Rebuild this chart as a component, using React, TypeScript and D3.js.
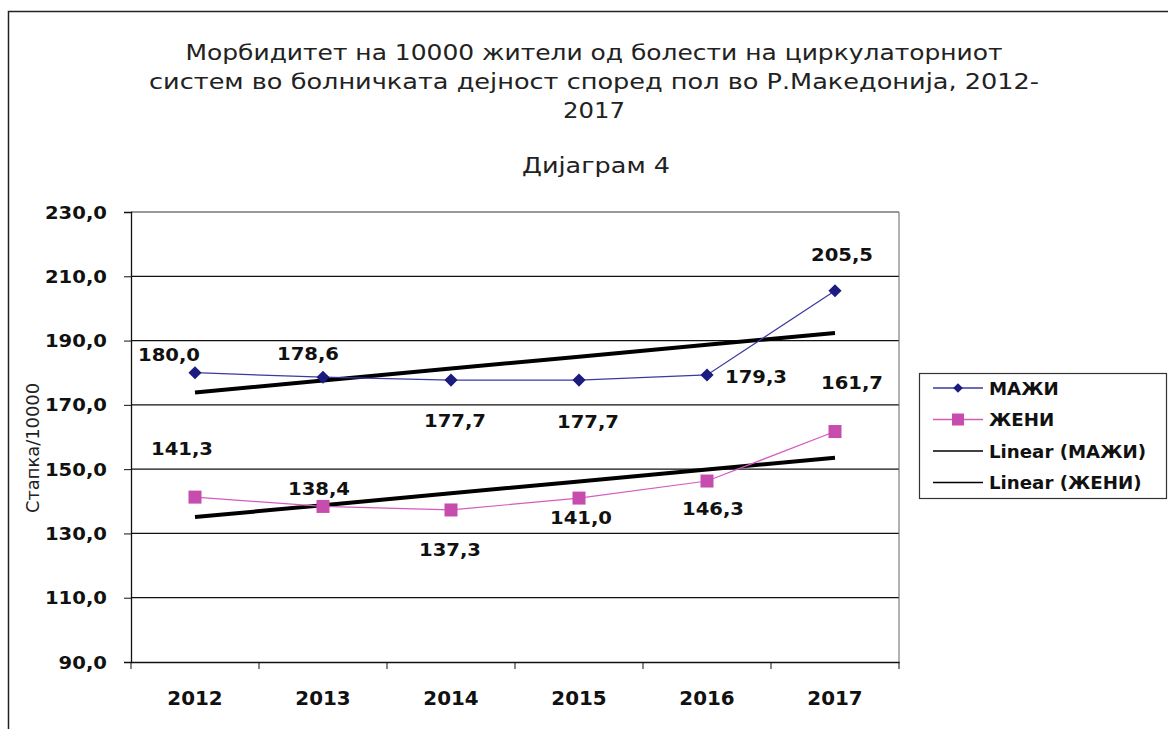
import React, { useEffect, useRef } from 'react';
import * as d3 from 'd3';

const years = ['2012', '2013', '2014', '2015', '2016', '2017'];
const maleValues = [180.0, 178.6, 177.7, 177.7, 179.3, 205.5];
const femaleValues = [141.3, 138.4, 137.3, 141.0, 146.3, 161.7];
const yTicks = [90, 110, 130, 150, 170, 190, 210, 230];
const titleLines = [
  'Морбидитет на 10000 жители од болести на циркулаторниот',
  'систем во болничката дејност според пол во Р.Македонија, 2012-',
  '2017',
];
const subtitle = 'Дијаграм 4';
const yTitle = 'Стапка/10000';
const legendItems = ['МАЖИ', 'ЖЕНИ', 'Linear (МАЖИ)', 'Linear (ЖЕНИ)'];

// hand-placed label offsets (px from the point to the label baseline centre)
const maleLabelOffset = [[-26, -12], [-15, -17], [4, 47], [9, 48], [49, 8], [7, -30]];
const femaleLabelOffset = [[-13, -42], [-4, -11], [-1, 46], [2, 26], [6, 34], [17, -43]];

const fmt = (v: number) => v.toFixed(1).replace('.', ',');

const trend = (vals: number[]) => {
  const xs = vals.map((_, i) => i + 1);
  const mx = d3.mean(xs)!;
  const my = d3.mean(vals)!;
  const slope = d3.sum(xs, (x, i) => (x - mx) * (vals[i] - my)) / d3.sum(xs, x => (x - mx) ** 2);
  return vals.map((_, i) => my + slope * (xs[i] - mx));
};

const App = () => {
  const ref = useRef<SVGSVGElement>(null);

  useEffect(() => {
    const svg = d3.select(ref.current);
    svg.selectAll('*').remove();
    const font = 'DejaVu Sans, Verdana, sans-serif';

    // text a bit wider than DejaVu, like the source
    const wide = (parent: any, x: number, y: number, txt: string, size: number, sx: number,
      anchor = 'middle', bold = true) => {
      parent.append('g').attr('transform', `translate(${x},${y}) scale(${sx},1)`)
        .append('text').attr('text-anchor', anchor).attr('font-family', font)
        .attr('font-weight', bold ? 'bold' : 'normal').attr('font-size', size)
        .attr('fill', '#111').text(txt);
    };

    // outer frame
    svg.append('rect').attr('x', 8.5).attr('y', 11.5).attr('width', 1180).attr('height', 740)
      .attr('fill', 'white').attr('stroke', '#222').attr('stroke-width', 1.5);

    const left = 131, right = 899, top = 212, bottom = 662;
    const x = d3.scaleBand().domain(years).range([left, right]);
    const y = d3.scaleLinear().domain([90, 230]).range([bottom, top]);
    const cx = (i: number) => x(years[i])! + x.bandwidth() / 2;

    // gridlines
    svg.append('g').selectAll('line').data(yTicks.slice(1)).enter().append('line')
      .attr('x1', left).attr('x2', right).attr('y1', d => y(d)).attr('y2', d => y(d))
      .attr('stroke', d => (d === 230 ? '#777' : '#111')).attr('stroke-width', 1.3);
    svg.append('line').attr('x1', right).attr('x2', right).attr('y1', top).attr('y2', bottom)
      .attr('stroke', '#666').attr('stroke-width', 1);

    // axes
    const yAxis = svg.append('g').attr('transform', `translate(${left},0)`)
      .call(d3.axisLeft(y).tickValues(yTicks).tickSize(7).tickFormat(() => ''));
    yAxis.select('.domain').attr('stroke', '#111').attr('stroke-width', 1.3);
    yAxis.selectAll('line').attr('stroke', '#111');
    yTicks.forEach(t => wide(svg, 107, y(t) + 6.5, fmt(t), 18, 1.09, 'end'));

    const xAxis = svg.append('g').attr('transform', `translate(0,${bottom})`)
      .call(d3.axisBottom(x).tickSize(0).tickFormat(() => ''));
    xAxis.select('.domain').attr('stroke', '#111').attr('stroke-width', 1.3);
    xAxis.append('g').selectAll('line').data(d3.range(years.length + 1)).enter().append('line')
      .attr('x1', i => left + i * x.bandwidth()).attr('x2', i => left + i * x.bandwidth())
      .attr('y1', 0).attr('y2', 7).attr('stroke', '#111');
    years.forEach((yr, i) => wide(svg, cx(i), 705, yr, 19.5, 1.02));

    // title
    const titleWidths = [817, 890, 62];
    svg.append('g').selectAll('text').data(titleLines).enter().append('text')
      .attr('x', 594).attr('y', (_, i) => 60 + i * 29).attr('text-anchor', 'middle')
      .attr('textLength', (_, i) => titleWidths[i]).attr('lengthAdjust', 'spacingAndGlyphs')
      .attr('font-family', font).attr('font-size', 20.5).attr('fill', '#222').text(d => d);
    svg.append('text').attr('x', 596).attr('y', 173).attr('text-anchor', 'middle')
      .attr('textLength', 148).attr('lengthAdjust', 'spacingAndGlyphs')
      .attr('font-family', font).attr('font-size', 20.5).attr('fill', '#222').text(subtitle);

    svg.append('text').attr('transform', `translate(39,448) rotate(-90)`).attr('text-anchor', 'middle')
      .attr('textLength', 130).attr('lengthAdjust', 'spacingAndGlyphs')
      .attr('font-family', font).attr('font-size', 17).attr('fill', '#222').text(yTitle);

    const line = d3.line<number>().x((_, i) => cx(i)).y(d => y(d));

    // trend lines
    [maleValues, femaleValues].forEach(vals => {
      svg.append('path').attr('d', line(trend(vals))).attr('fill', 'none')
        .attr('stroke', '#000').attr('stroke-width', 4);
    });

    const maleColor = '#1c1c80';
    const femaleColor = '#c64cae';

    svg.append('path').attr('d', line(maleValues)).attr('fill', 'none')
      .attr('stroke', '#3a3aa0').attr('stroke-width', 1.2);
    svg.append('path').attr('d', line(femaleValues)).attr('fill', 'none')
      .attr('stroke', '#d45cc0').attr('stroke-width', 1.2);

    svg.append('g').selectAll('path').data(maleValues).enter().append('path')
      .attr('d', d3.symbol(d3.symbolDiamond2, 110)())
      .attr('transform', (d, i) => `translate(${cx(i)},${y(d)})`).attr('fill', maleColor);
    svg.append('g').selectAll('rect').data(femaleValues).enter().append('rect')
      .attr('x', (_, i) => cx(i) - 6.5).attr('y', d => y(d) - 6.5).attr('width', 13).attr('height', 13)
      .attr('fill', femaleColor);

    // data labels
    maleValues.forEach((v, i) =>
      wide(svg, cx(i) + maleLabelOffset[i][0], y(v) + maleLabelOffset[i][1], fmt(v), 18, 1.09));
    femaleValues.forEach((v, i) =>
      wide(svg, cx(i) + femaleLabelOffset[i][0], y(v) + femaleLabelOffset[i][1], fmt(v), 18, 1.09));

    // legend
    const lg = svg.append('g').attr('transform', 'translate(919,373)');
    lg.append('rect').attr('x', 0.5).attr('y', 0.5).attr('width', 247).attr('height', 125)
      .attr('fill', 'white').attr('stroke', '#333').attr('stroke-width', 1.2);
    const rowY = (i: number) => 15 + i * 31.5;
    legendItems.forEach((name, i) => {
      const g = lg.append('g').attr('transform', `translate(0,${rowY(i)})`);
      const stroke = i === 0 ? '#3a3aa0' : i === 1 ? '#d45cc0' : '#000';
      g.append('line').attr('x1', 14).attr('x2', 64).attr('y1', 0).attr('y2', 0)
        .attr('stroke', stroke).attr('stroke-width', i < 2 ? 1.5 : 1.3);
      if (i === 0) g.append('path').attr('d', d3.symbol(d3.symbolDiamond2, 60)())
        .attr('transform', 'translate(39,0)').attr('fill', maleColor);
      if (i === 1) g.append('rect').attr('x', 33).attr('y', -6).attr('width', 12).attr('height', 12)
        .attr('fill', femaleColor);
      wide(g, 70, 6.5, name, 17.5, 1.04, 'start');
    });
  }, []);

  return (
    <svg ref={ref} width={1168} height={729}
      style={{ position: 'absolute', left: 0, top: 0, background: 'white' }} />
  );
};

export default App;
